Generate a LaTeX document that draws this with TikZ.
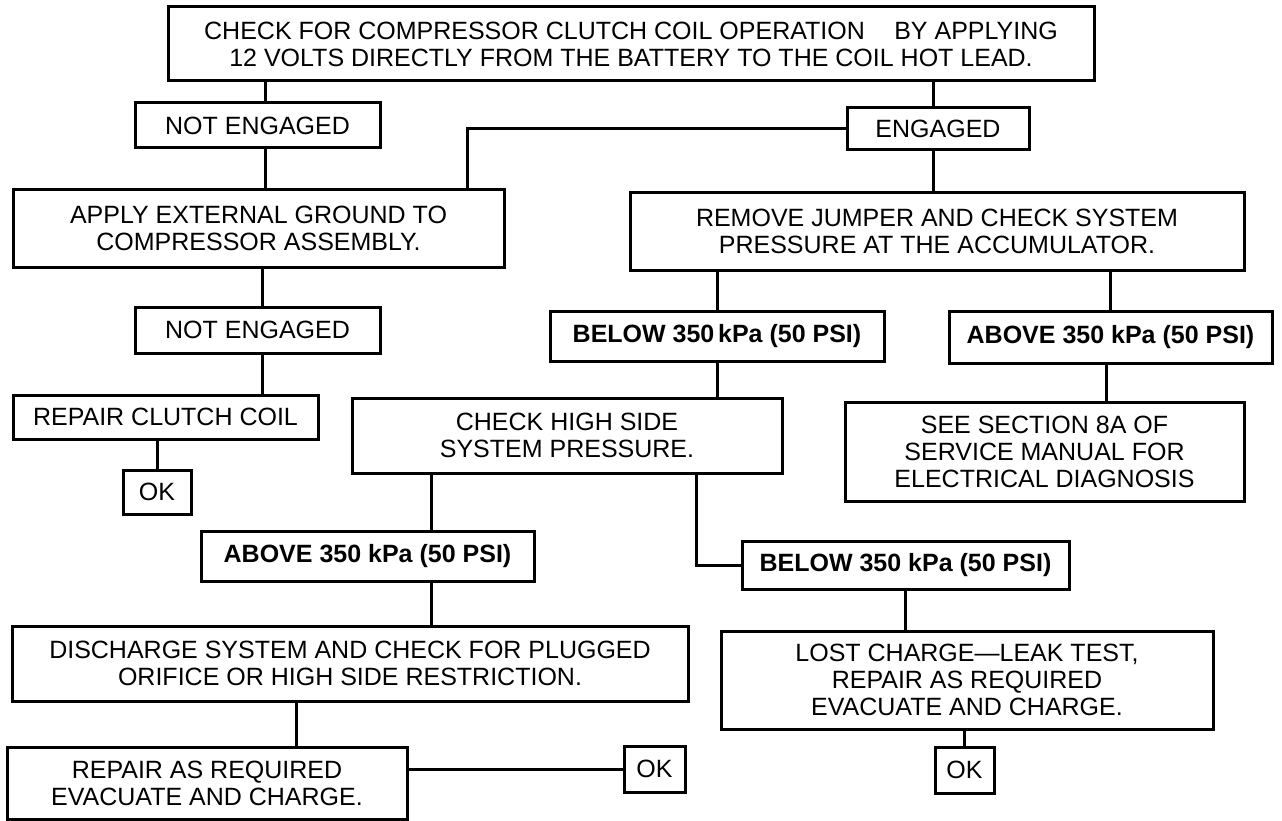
\documentclass[tikz,border=0pt]{standalone}
\usepackage{fontspec}
\setmainfont{Liberation Sans}
\usetikzlibrary{calc}
\begin{document}
\begin{tikzpicture}[x=1pt,y=-1pt,
  box/.style={draw, line width=3pt, inner sep=0pt, align=center, font=\fontsize{25}{27}\selectfont},
  boldbox/.style={box, font=\fontsize{25}{27}\selectfont\bfseries},
  conn/.style={line width=3pt}]
\useasboundingbox (0,0) rectangle (1282,821);
% nodes
\node[box, minimum width=926pt, minimum height=74pt] (top) at (631,44)
  {CHECK FOR COMPRESSOR CLUTCH COIL OPERATION\hspace{0.9em} BY APPLYING\\12 VOLTS DIRECTLY FROM THE BATTERY TO THE COIL HOT LEAD.};
\node[box, minimum width=245pt, minimum height=45pt] (ne1) at (257.5,125.5) {NOT ENGAGED};
\node[box, minimum width=182pt, minimum height=42pt] (eng) at (938,129) {ENGAGED};
\node[box, minimum width=491pt, minimum height=77pt] (apply) at (258.5,228.5) {APPLY EXTERNAL GROUND TO\\COMPRESSOR ASSEMBLY.};
\node[box, minimum width=614pt, minimum height=77pt] (remove) at (937,231.5) {REMOVE JUMPER AND CHECK SYSTEM\\PRESSURE AT THE ACCUMULATOR.};
\node[box, minimum width=245pt, minimum height=46pt] (ne2) at (257.5,330) {NOT ENGAGED};
\node[boldbox, minimum width=334pt, minimum height=50pt] (below1) at (717,336) {BELOW 350\hspace{0.15em}kPa (50 PSI)};
\node[boldbox, minimum width=323pt, minimum height=52pt] (above1) at (1110.5,337) {ABOVE 350 kPa (50 PSI)};
\node[box, minimum width=305pt, minimum height=44pt] (rcc) at (165.5,417) {REPAIR CLUTCH COIL};
\node[box, minimum width=430pt, minimum height=75pt] (chs) at (567,435.5) {CHECK HIGH SIDE\\SYSTEM PRESSURE.};
\node[box, minimum width=399pt, minimum height=99pt] (see) at (1044.5,451.5) {SEE SECTION 8A OF\\SERVICE MANUAL FOR\\ELECTRICAL DIAGNOSIS};
\node[box, minimum width=68pt, minimum height=44pt] (ok1) at (157,492) {OK};
\node[boldbox, minimum width=333pt, minimum height=50pt] (above2) at (367.5,556) {ABOVE 350 kPa (50 PSI)};
\node[boldbox, minimum width=327pt, minimum height=48pt] (below2) at (905.5,565) {BELOW 350 kPa (50 PSI)};
\node[box, minimum width=676pt, minimum height=75pt] (dis) at (350,663.5) {DISCHARGE SYSTEM AND CHECK FOR PLUGGED\\ORIFICE OR HIGH SIDE RESTRICTION.};
\node[box, minimum width=492pt, minimum height=98pt] (lost) at (967,680) {LOST CHARGE—LEAK TEST,\\REPAIR AS REQUIRED\\EVACUATE AND CHARGE.};
\node[box, minimum width=400pt, minimum height=72pt] (rep) at (207,783) {REPAIR AS REQUIRED\\EVACUATE AND CHARGE.};
\node[box, minimum width=61pt, minimum height=46pt] (ok2) at (654.5,769) {OK};
\node[box, minimum width=59pt, minimum height=46pt] (ok3) at (964.5,770) {OK};
% connectors
\draw[conn] ($(ne1.north)+(7.5,0)$) -- ($(ne1.north |- top.south)+(7.5,0)$);
\draw[conn] ($(eng.north)+(-5,0)$) -- ($(eng.north |- top.south)+(-5,0)$);
\draw[conn] ($(eng.south)+(-5,0)$) -- ($(eng.south |- remove.north)+(-5,0)$);
\draw[conn] (eng.west) -| ($(apply.north)+(208.5,0)$);
\draw[conn] ($(ne1.south)+(7.5,0)$) -- ($(ne1.south |- apply.north)+(7.5,0)$);
\draw[conn] ($(ne2.north)+(4.5,0)$) -- ($(ne2.north |- apply.south)+(4.5,0)$);
\draw[conn] ($(ne2.south)+(4.5,0)$) -- ($(ne2.south |- rcc.north)+(4.5,0)$);
\draw[conn] (ok1.north) -- (ok1.north |- rcc.south);
\draw[conn] (below1.north) -- (below1.north |- remove.south);
\draw[conn] (above1.north) -- (above1.north |- remove.south);
\draw[conn] (below1.south) -- (below1.south |- chs.north);
\draw[conn] ($(above1.south)+(-4,0)$) -- ($(above1.south |- see.north)+(-4,0)$);
\draw[conn] ($(above2.north)+(63.5,0)$) -- ($(above2.north |- chs.south)+(63.5,0)$);
\draw[conn] ($(above2.south)+(63.5,0)$) -- ($(above2.south |- dis.north)+(63.5,0)$);
\draw[conn] ($(chs.south)+(129,0)$) |- (below2.west);
\draw[conn] (below2.south) -- (below2.south |- lost.north);
\draw[conn] (ok3.north) -- (ok3.north |- lost.south);
\draw[conn] ($(rep.north)+(89,0)$) -- ($(rep.north |- dis.south)+(89,0)$);
\draw[conn] (ok2.west) -- (ok2.west -| rep.east);
\end{tikzpicture}
\end{document}
